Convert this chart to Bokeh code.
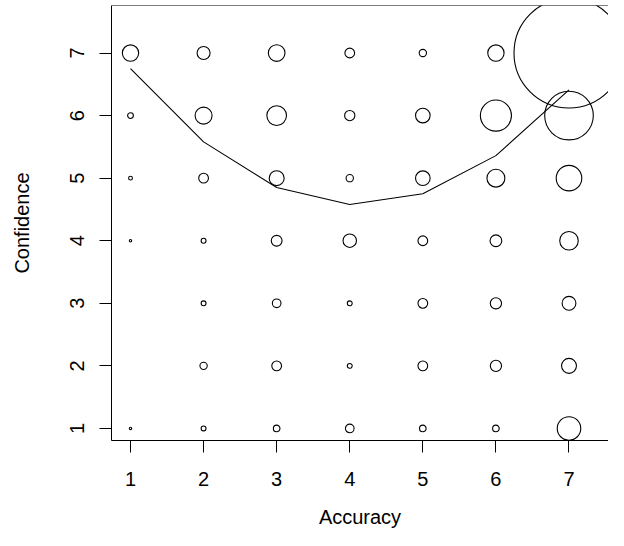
import numpy as np
from bokeh.plotting import figure
from bokeh.models import Range1d, FixedTicker, Span, ColumnDataSource
from bokeh.embed import file_html
from bokeh.resources import INLINE

# ---- data ----
accuracy_levels = [1, 2, 3, 4, 5, 6, 7]
confidence_levels = [1, 2, 3, 4, 5, 6, 7]
# counts per (confidence row, accuracy column)
counts_conf1 = [1, 3, 5, 8, 5, 5, 52]
counts_conf2 = [0, 6, 10, 3, 10, 13, 22]
counts_conf3 = [0, 3, 8, 3, 10, 13, 19]
counts_conf4 = [1, 3, 12, 18, 10, 14, 33]
counts_conf5 = [2, 10, 22, 6, 21, 31, 61]
counts_conf6 = [4, 28, 37, 11, 21, 89, 213]
counts_conf7 = [26, 17, 27, 10, 6, 26, 1066]
# fitted (quadratic) confidence by accuracy
fit_confidence = [6.75, 5.58, 4.85, 4.58, 4.75, 5.36, 6.41]

rows = [counts_conf1, counts_conf2, counts_conf3, counts_conf4,
        counts_conf5, counts_conf6, counts_conf7]
xs, ys, ns = [], [], []
for conf, row in zip(confidence_levels, rows):
    for acc, n in zip(accuracy_levels, row):
        if n > 0:
            xs.append(acc)
            ys.append(conf)
            ns.append(n)
ns = np.array(ns, dtype=float)
sizes = 2 * 1.7 * np.sqrt(ns) - 1.0
src = ColumnDataSource(dict(x=xs, y=ys, size=sizes))

FONT = "Liberation Sans"

W, H = 608, 530
LEFT, TOP = 111, 5
BOTTOM_PX = 438          # expected frame bottom
PX_PER_Y = 62.28
PX_PER_X = 73.08
y_end = 7 + (52.3 - TOP) / PX_PER_Y
y_start = 1 - (BOTTOM_PX - 426) / PX_PER_Y
x_start = 1 - (130 - LEFT) / PX_PER_X
x_end = 7 + (W - 568.5) / PX_PER_X

p = figure(width=W, height=H,
           x_range=Range1d(x_start, x_end), y_range=Range1d(y_start, y_end),
           output_backend="svg", toolbar_location=None,
           min_border_left=LEFT, min_border_right=0, min_border_top=TOP,
           min_border_bottom=0)
p.outline_line_color = None
p.xgrid.visible = False
p.ygrid.visible = False
p.background_fill_color = "white"
p.border_fill_color = "white"

p.scatter("x", "y", size="size", source=src, marker="circle",
          fill_color=None, line_color="black", line_width=1.1)
p.line(accuracy_levels, fit_confidence, line_color="black", line_width=1.1)

p.add_layout(Span(location=y_end, dimension="width", line_color="black",
                  line_width=1))

for ax in (p.xaxis[0], p.yaxis[0]):
    ax.ticker = FixedTicker(ticks=accuracy_levels)
    ax.minor_tick_line_color = None
    ax.major_tick_in = 0
    ax.major_tick_out = 12
    ax.major_tick_line_color = "black"
    ax.axis_line_color = "black"
    ax.major_label_text_font = FONT
    ax.major_label_text_font_size = "20px"
    ax.major_label_text_color = "black"
    ax.axis_label_text_font = FONT
    ax.axis_label_text_font_size = "20px"
    ax.axis_label_text_font_style = "normal"
    ax.axis_label_text_color = "black"

p.xaxis.axis_label = "Accuracy"
p.yaxis.axis_label = "Confidence"
p.yaxis.major_label_orientation = "vertical"
p.xaxis.major_label_standoff = 19
p.xaxis.axis_label_standoff = 17
p.yaxis.major_label_standoff = 15
p.yaxis.axis_label_standoff = 35

open("out.html", "w").write(file_html(p, INLINE))
